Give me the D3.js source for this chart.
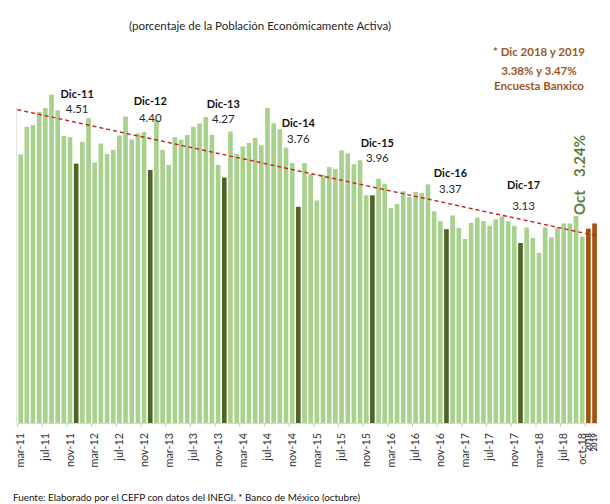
<!DOCTYPE html>
<html>
<head>
<meta charset="utf-8">
<script src="https://cdn.jsdelivr.net/npm/d3@7"></script>
<style>
  body { margin: 0; background: #fff; }
  text { font-family: Lato, "Liberation Sans", sans-serif; }
</style>
</head>
<body>
<div id="chart"></div>
<script>
// Tasa de desocupacion mensual (porcentaje de la PEA)
var monthNames = ["ene", "feb", "mar", "abr", "may", "jun", "jul", "ago", "sep", "oct", "nov", "dic"];

var rate2011 = [4.67, 5.15, 5.18, 5.41, 5.48, 5.71, 5.44, 4.99, 4.97, 4.51]; // mar-dic
var rate2012 = [4.89, 5.30, 4.53, 4.86, 4.68, 4.75, 5.00, 5.33, 4.93, 5.04, 5.06, 4.40];
var rate2013 = [5.27, 4.75, 4.49, 4.97, 4.93, 5.01, 5.15, 5.21, 5.32, 5.01, 4.49, 4.27];
var rate2014 = [5.07, 4.68, 4.81, 4.87, 4.96, 4.83, 5.48, 5.21, 5.11, 4.79, 4.52, 3.76];
var rate2015 = [4.52, 4.33, 3.87, 4.32, 4.45, 4.42, 4.74, 4.69, 4.50, 4.57, 3.96, 3.96];
var rate2016 = [4.25, 4.16, 3.74, 3.81, 4.03, 3.93, 4.02, 4.00, 4.15, 3.68, 3.51, 3.37];
var rate2017 = [3.61, 3.39, 3.20, 3.48, 3.57, 3.51, 3.43, 3.54, 3.59, 3.51, 3.43, 3.13];
var rate2018 = [3.40, 3.22, 2.96, 3.40, 3.23, 3.40, 3.47, 3.47, 3.60, 3.24]; // ene-oct

// Encuesta Banxico (dic 2018 y 2019)
var forecastLabels = ["2018", "2019"];
var forecastValues = [3.38, 3.47];

// etiquetas de diciembre
var decCategories = ["dic-11", "dic-12", "dic-13", "dic-14", "dic-15", "dic-16", "dic-17"];
var decNames = ["Dic-11", "Dic-12", "Dic-13", "Dic-14", "Dic-15", "Dic-16", "Dic-17"];
var decTexts = ["4.51", "4.40", "4.27", "3.76", "3.96", "3.37", "3.13"];

// tendencia lineal (inicio, fin)
var trendValues = [5.45, 3.25];

var titleText = "(porcentaje de la Población Económicamente Activa)";
var sourceText = "Fuente: Elaborado por el CEFP con datos del INEGI. * Banco de México (octubre)";
var noteLines = ["* Dic 2018 y 2019", "3.38% y 3.47%", "Encuesta Banxico"];

// ---- build the table ----
var yearly = [[2011, rate2011, 2], [2012, rate2012, 0], [2013, rate2013, 0], [2014, rate2014, 0],
              [2015, rate2015, 0], [2016, rate2016, 0], [2017, rate2017, 0], [2018, rate2018, 0]];
var data = [];
yearly.forEach(function(y) {
  y[1].forEach(function(v, k) {
    var m = monthNames[y[2] + k];
    data.push({ cat: m + "-" + String(y[0]).slice(2), value: v, type: m === "dic" ? "dec" : "month" });
  });
});
forecastLabels.forEach(function(l, k) {
  data.push({ cat: l, value: forecastValues[k], type: "forecast" });
});

var svgWidth = 610;
var svgHeight = 504;

var svg = d3.select("#chart")
  .append("svg")
  .attr("width", svgWidth)
  .attr("height", svgHeight)
  .style("display", "block");

svg.append("rect").attr("width", svgWidth).attr("height", svgHeight).attr("fill", "#fff");

var x = d3.scaleBand()
  .domain(data.map(d => d.cat))
  .range([17.6, 597.6])
  .paddingInner(0.25)
  .paddingOuter(0.12);

var baseY = 423;
var y = d3.scaleLinear()
  .domain([0, 5.8])
  .range([baseY, baseY - 5.8 * 57.5]);

var colors = { month: "#a9d18e", dec: "#4f6228", forecast: "#a0500f" };

// faint axis line
svg.append("line")
  .attr("x1", 16.5).attr("x2", 16.5)
  .attr("y1", 108).attr("y2", baseY)
  .attr("stroke", "#e4e4e4").attr("stroke-width", 1);

// bars
svg.selectAll("rect.bar")
  .data(data)
  .enter()
  .append("rect")
  .attr("class", "bar")
  .attr("x", d => x(d.cat))
  .attr("y", d => y(d.value))
  .attr("width", x.bandwidth())
  .attr("height", d => y(0) - y(d.value))
  .attr("fill", d => colors[d.type]);

// x axis
var step = x.step();
var shown = data.map(d => d.cat).filter((c, i) => i % 4 === 0 || i >= data.length - 3);

var xAxis = d3.axisBottom(x)
  .tickValues(shown)
  .tickSize(0)
  .tickPadding(0);

var axisG = svg.append("g")
  .attr("transform", `translate(0, ${baseY})`)
  .call(xAxis);

axisG.select(".domain")
  .attr("stroke", "#d9d9d9")
  .attr("d", `M17.6,0.5H597.6`);

axisG.selectAll(".tick text")
  .attr("transform", "translate(0, 10) rotate(-90)")
  .attr("text-anchor", "end")
  .attr("x", 0)
  .attr("y", 0)
  .attr("dy", "0.35em")
  .attr("fill", "#333")
  .style("font-family", "Lato, sans-serif")
  .style("font-size", d => forecastLabels.includes(d) ? "8px" : "10.8px")
  .style("font-weight", d => forecastLabels.includes(d) ? "bold" : "normal");

// tick marks between categories, every 4 months
var tickCats = data.map(d => d.cat).filter((c, i) => i % 4 === 0);
svg.selectAll("line.tickmark")
  .data(tickCats)
  .enter()
  .append("line")
  .attr("class", "tickmark")
  .attr("x1", d => x(d) - (step - x.bandwidth()) / 2)
  .attr("x2", d => x(d) - (step - x.bandwidth()) / 2)
  .attr("y1", baseY)
  .attr("y2", baseY + 4)
  .attr("stroke", "#c8c8c8");

// trend line
var firstCat = data[0].cat;
var lastCat = data[data.length - 1].cat;
svg.append("line")
  .attr("x1", x(firstCat) - 1)
  .attr("x2", x(lastCat) + x.bandwidth() + 1)
  .attr("y1", y(trendValues[0]))
  .attr("y2", y(trendValues[1]))
  .attr("stroke", "#c9211e")
  .attr("stroke-width", 1.4)
  .attr("stroke-dasharray", "4,3");

// december labels (placed by hand, like the original)
var decLayout = [
  { dx: 1, name: 98, val: 113 },
  { dx: 0, name: 105, val: 122 },
  { dx: -1, name: 108, val: 123 },
  { dx: 0, name: 127, val: 143 },
  { dx: 5, name: 147, val: 162 },
  { dx: 4, name: 177, val: 193 },
  { dx: 3, name: 189, val: 210 }
];

decCategories.forEach(function(c, k) {
  var cx = x(c) + x.bandwidth() / 2 + decLayout[k].dx;
  svg.append("text")
    .attr("x", cx)
    .attr("y", decLayout[k].name)
    .attr("text-anchor", "middle")
    .attr("fill", "#111")
    .style("font-size", "11px")
    .style("font-weight", "bold")
    .text(decNames[k]);
  svg.append("text")
    .attr("x", cx)
    .attr("y", decLayout[k].val)
    .attr("text-anchor", "middle")
    .attr("fill", "#262626")
    .style("font-size", "11.5px")
    .text(decTexts[k]);
});

// october value, vertical
var octCat = data[data.length - 3].cat;
var octX = x(octCat) + x.bandwidth() / 2 - 2;
svg.append("text")
  .attr("transform", `translate(${octX}, 215) rotate(-90)`)
  .attr("dy", "0.35em")
  .attr("fill", "#5b7f3a")
  .style("font-size", "15px")
  .style("font-weight", "bold")
  .text("Oct");
svg.append("text")
  .attr("transform", `translate(${octX}, 177) rotate(-90)`)
  .attr("dy", "0.35em")
  .attr("fill", "#5b7f3a")
  .style("font-size", "15px")
  .style("font-weight", "bold")
  .text(d3.format(".2f")(rate2018[rate2018.length - 1]) + "%");

// Banxico note
svg.selectAll("text.note")
  .data(noteLines)
  .enter()
  .append("text")
  .attr("class", "note")
  .attr("x", 539)
  .attr("y", (d, i) => [56, 75, 90][i])
  .attr("text-anchor", "middle")
  .attr("fill", "#a0561e")
  .style("font-size", "11.5px")
  .style("font-weight", "bold")
  .text(d => d);

// title
svg.append("text")
  .attr("x", 260)
  .attr("y", 30)
  .attr("text-anchor", "middle")
  .attr("fill", "#262626")
  .style("font-size", "11.5px")
  .text(titleText);

// source
svg.append("text")
  .attr("x", 13)
  .attr("y", 501)
  .attr("fill", "#111")
  .style("font-size", "9.9px")
  .text(sourceText);
</script>
</body>
</html>
